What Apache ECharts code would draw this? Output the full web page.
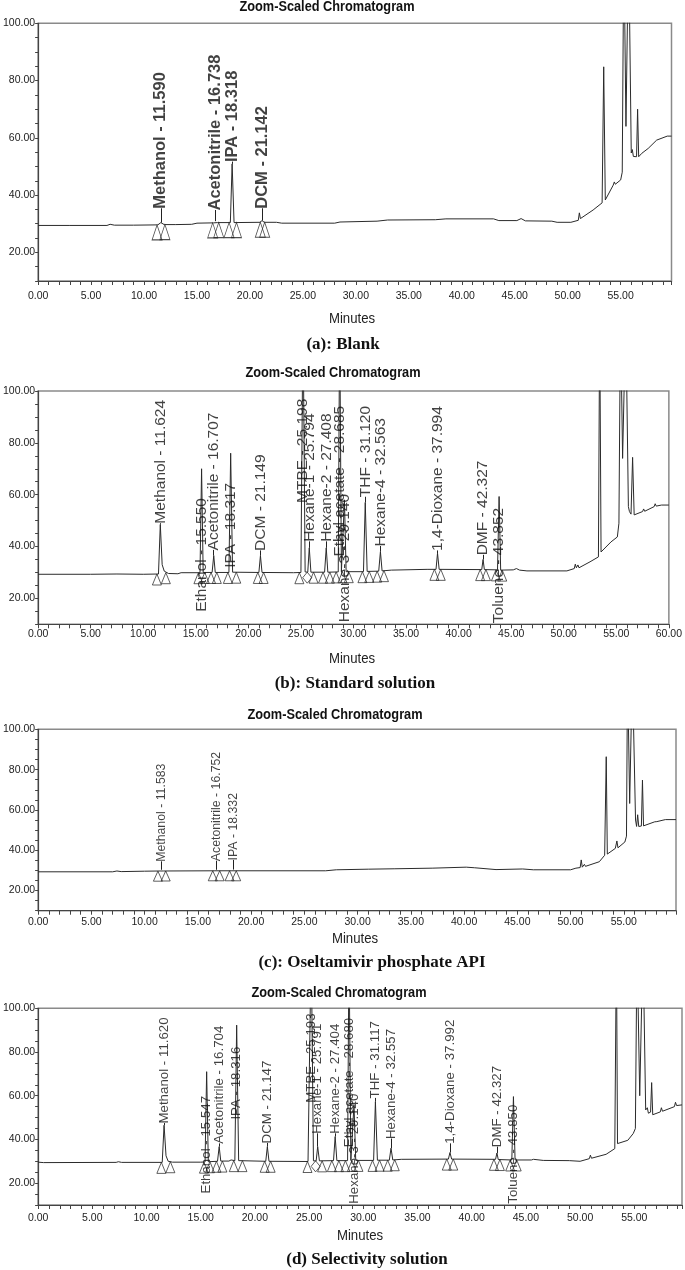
<!DOCTYPE html>
<html><head><meta charset="utf-8">
<script src="https://cdn.jsdelivr.net/npm/echarts@6/dist/echarts.min.js"></script>
<style>html,body{margin:0;padding:0;background:#fff}#c{width:685px;height:1270px}</style>
</head><body><div id="c"></div>
<script>
// ---------- Panel (a): Blank ----------
const traceA = [[0,29.4],[3,29.4],[6.5,29.4],[6.8,29.8],[7.2,29.5],[9,29.5],[11.3,29.6],[11.59,30.4],[11.9,29.7],[13,29.7],[14.5,29.8],[15,30.2],[16.55,30.3],[16.738,30.9],[16.95,30.4],[18.15,30.4],[18.318,50.9],[18.5,30.4],[20.95,30.5],[21.142,31.1],[21.35,30.5],[22.5,30.5],[23,30.2],[28,30.2],[28.5,30.6],[32,30.9],[33,31.3],[37.5,31.4],[38.5,31.7],[43,31.7],[43.5,31.1],[45.2,31.1],[45.6,31.8],[46,31.0],[48.5,30.9],[49,30.5],[50.3,30.5],[51,31.2],[51.1,33.8],[51.2,31.8],[52.4,34.8],[53.25,37.3],[53.4,84.8],[53.55,38.3],[54.3,43.5],[54.4,44.6],[54.5,43.8],[55.0,45.3],[55.15,48],[55.3,130],[55.5,64],[55.75,130],[56.0,54.7],[56.1,55.9],[56.2,53.5],[56.5,53.4],[56.6,70],[56.7,53.4],[57.0,54.6],[57.6,56.3],[58.4,59.2],[59.4,60.6],[59.8,60.6]];
const namesA = ['Methanol','Acetonitrile','IPA','DCM'];
const timesA = [11.590,16.738,18.318,21.142];
const apexA = [30.4,30.9,50.9,31.1];
const labelYA = [35.4,34.8,51.7,35.4];
const markersA = [[11.23,29.6],[11.97,29.7],[16.48,30.3],[17.05,30.4],[18.03,30.4],[18.73,30.4],[20.98,30.5],[21.39,30.5]];
const diamondsA = [];

// ---------- Panel (b): Standard solution ----------
const traceB = [[0,29.3],[5,29.3],[7.5,29.4],[10,29.3],[11.45,29.4],[11.624,48.5],[11.8,33],[12.0,30.5],[12.4,29.6],[13.3,29.5],[13.6,29.9],[15.4,29.9],[15.55,70],[15.7,30],[16.55,30],[16.707,36.5],[16.85,30],[18.15,30],[18.317,76],[18.5,30.1],[21.0,30],[21.149,36.5],[21.3,30],[24.3,29.9],[25.0,30.0],[25.198,130],[25.4,30.2],[25.65,30.1],[25.794,39.5],[25.95,30.1],[27.25,30.1],[27.408,39.5],[27.56,30.1],[28.55,30.2],[28.685,130],[28.85,30.3],[29.0,30.3],[29.14,58],[29.3,30.3],[30.95,30.3],[31.12,57],[31.3,30.4],[32.4,30.5],[32.563,38],[32.72,30.6],[33.6,30.9],[37,31.2],[37.85,31.2],[37.994,37.4],[38.15,31.2],[42.2,31.1],[42.327,35],[42.45,31.1],[43.7,31],[43.852,59.3],[44,30.9],[45.2,31],[45.5,31.5],[45.8,30.9],[46.5,30.6],[50.3,30.6],[51,31.5],[51.1,33.2],[51.2,31.8],[51.35,32.9],[51.45,31.8],[52.5,34.1],[53.3,36],[53.42,130],[53.55,37.9],[54.5,41.8],[55.1,43.7],[55.25,49],[55.4,130],[55.6,74],[55.9,130],[56.15,55.4],[56.25,53.5],[56.4,52.5],[56.55,74.4],[56.7,52.2],[57.5,53.5],[57.6,54.5],[57.7,53.6],[58.6,55.4],[58.7,56.5],[58.8,55.6],[59.3,56],[60,56]];
const namesB = ['Methanol','Ethanol','Acetonitrile','IPA','DCM','MTBE','Hexane-1','Hexane-2','Ethyl acetate','Hexane-3','THF','Hexane-4','1,4-Dioxane','DMF','Toluene'];
const timesB = [11.624,15.550,16.707,18.317,21.149,25.198,25.794,27.408,28.685,29.140,31.120,32.563,37.994,42.327,43.852];
const apexB = [48.5,70,36.5,76,36.5,130,39.5,39.5,130,58,57,38,37.4,35,59.3];
const labelYB = [49,15,38.7,32,38.5,57,42,42,36.3,11,59.2,40.2,38.5,36.8,10.6];
const markersB = [[11.3,29.4],[12.15,29.9],[15.25,29.9],[15.85,30],[16.45,30],[17.0,30],[18.05,30],[18.85,30.1],[20.9,30],[21.45,30],[24.85,29.9],[26.2,30.1],[27.1,30.1],[27.75,30.1],[28.35,30.2],[28.95,30.3],[29.55,30.3],[30.85,30.3],[31.5,30.4],[32.25,30.5],[32.9,30.7],[37.7,31.2],[38.3,31.2],[42.05,31.1],[42.6,31.1],[43.55,31],[44.15,30.9]];
const diamondsB = [[25.6,30.1]];

// ---------- Panel (c): Oseltamivir phosphate API ----------
const traceC = [[0,29.3],[7,29.3],[7.4,29.7],[7.8,29.4],[10,29.6],[11.45,29.7],[11.583,30.3],[11.75,29.7],[16.6,29.8],[16.752,30.3],[16.9,29.8],[18.2,29.8],[18.332,30.4],[18.5,29.8],[27,29.8],[28,30.3],[31,30.6],[33.5,30.8],[37,31.1],[40.2,31.6],[41,31.3],[43,30.4],[45.5,30.7],[46.5,30.3],[50,30.3],[50.5,31.1],[50.9,31.4],[51.0,35.2],[51.1,31.6],[51.3,33.0],[51.4,32],[52.7,34.3],[53.2,37.5],[53.35,86.4],[53.45,38.1],[54.2,40.9],[54.35,44.6],[54.45,41.2],[55.1,44.1],[55.25,47],[55.35,130],[55.55,63.2],[55.8,130],[56.1,55],[56.2,51.8],[56.3,57.6],[56.4,51.8],[56.65,52],[56.75,74.8],[56.85,52.1],[57.0,51.8],[57.9,54.1],[58,55],[58.1,54.2],[58.9,55.2],[59.9,55.2]];
const namesC = ['Methanol','Acetonitrile','IPA'];
const timesC = [11.583,16.752,18.332];
const apexC = [30.3,30.3,30.4];
const labelYC = [34.5,34.8,35.2];
const markersC = [[11.25,29.6],[11.98,29.7],[16.4,29.8],[17.05,29.8],[17.98,29.8],[18.6,29.8]];
const diamondsC = [];

// ---------- Panel (d): Selectivity solution ----------
const traceD = [[0,29.6],[0.5,29.4],[7.2,29.5],[7.4,29.8],[7.7,29.5],[11.45,29.5],[11.62,46.5],[11.8,32.5],[12.0,30],[12.4,29.6],[15.0,29.6],[15.4,29.7],[15.547,71],[15.7,29.8],[16.55,30],[16.704,36.7],[16.85,30.1],[17.6,30.1],[17.8,30.6],[18.15,30.3],[18.316,92.3],[18.5,30.3],[21.0,30],[21.147,36.7],[21.3,30],[24.9,29.9],[25.0,30.0],[25.193,130],[25.4,30.2],[25.65,30.2],[25.791,36.7],[25.95,30.2],[27.25,30.3],[27.404,41.3],[27.56,30.3],[28.55,30.3],[28.68,130],[28.85,30.4],[29.0,30.4],[29.14,56],[29.3,30.4],[30.95,30.4],[31.117,57.3],[31.3,30.5],[32.4,30.5],[32.557,36],[32.72,30.6],[33.5,30.9],[37.85,31],[37.992,34],[38.15,31],[42.2,30.9],[42.327,33.8],[42.45,30.8],[43.7,30.6],[43.85,59.6],[44,30.6],[45.5,30.6],[45.7,30.9],[46.6,30.4],[49,30.3],[50,30.0],[50.85,31.2],[50.95,32.8],[51.05,31.4],[52.4,33.2],[53.2,35.8],[53.35,130],[53.45,38.1],[54.4,39.6],[54.9,42.7],[55.1,45],[55.25,130],[55.5,60],[55.8,130],[56.05,53.5],[56.2,54.5],[56.3,52],[56.5,52.5],[56.6,66],[56.7,51.3],[57.4,52.6],[57.5,54.5],[57.6,52.9],[58.7,55],[58.8,57],[58.9,55.5],[59.4,55.8]];
const namesD = ['Methanol','Ethanol','Acetonitrile','IPA','DCM','MTBE','Hexane-1','Hexane-2','Ethyl acetate','Hexane-3','THF','Hexane-4','1,4-Dioxane','DMF','Toluene'];
const timesD = [11.620,15.547,16.704,18.316,21.147,25.193,25.791,27.404,28.680,29.140,31.117,32.557,37.992,42.327,43.850];
const apexD = [46.5,71,36.7,92.3,36.7,130,36.7,41.3,130,56,57.3,36,34,33.8,59.6];
const labelYD = [47.5,15.5,38.2,49.3,38.4,57,42.8,42.8,36.7,10.8,59,40.4,38.2,36.7,10.8];
const markersD = [[11.37,29.5],[12.2,29.8],[15.3,29.6],[15.85,29.8],[16.45,30],[17.0,30.1],[18.05,30.3],[18.85,30.3],[20.9,30],[21.45,30],[24.85,29.9],[26.2,30.2],[27.1,30.3],[27.75,30.3],[28.35,30.3],[28.95,30.4],[29.55,30.4],[30.85,30.4],[31.5,30.5],[32.25,30.5],[32.9,30.7],[37.7,31],[38.3,31],[42.05,30.9],[42.6,30.8],[43.55,30.6],[44.15,30.6]];
const diamondsD = [[25.6,30.2]];

// ---------- Text ----------
const chartTitle = 'Zoom-Scaled Chromatogram';
const xAxisTitle = 'Minutes';
const captions = ['(a): Blank','(b): Standard solution','(c): Oseltamivir phosphate API','(d) Selectivity solution'];

// ---------- Layout / style ----------
const SANS = "'Liberation Sans',Arial,sans-serif";
const SERIF = "'Liberation Serif','Times New Roman',serif";

const panels = [
  {grid:{left:33.5,right:13.5,top:23.3,height:257.7}, xmax:59.8, labMargin:10, trace:traceA, names:namesA, times:timesA, apex:apexA, ly:labelYA, markers:markersA, diamonds:diamondsA, fs:16.5, fw:'bold', tri:[10,15],
   titleXY:[327,7], minXY:[352,319], capXY:[343,345]},
  {grid:{left:33.5,right:12.5,top:391,height:233.3}, xmax:60, labMargin:4, trace:traceB, names:namesB, times:timesB, apex:apexB, ly:labelYB, markers:markersB, diamonds:diamondsB, fs:15.5, fw:'normal', tri:[9,11],
   titleXY:[333,373], minXY:[352,659], capXY:[355,684]},
  {grid:{left:34,right:9,top:729.3,height:181.4}, xmax:59.9, labMargin:5.5, trace:traceC, names:namesC, times:timesC, apex:apexC, ly:labelYC, markers:markersC, diamonds:diamondsC, fs:12.3, fw:'normal', tri:[9,10],
   titleXY:[335,715], minXY:[355,939], capXY:[372,963]},
  {grid:{left:33.5,right:3,top:1008.3,height:196.7}, xmax:59.4, labMargin:8, trace:traceD, names:namesD, times:timesD, apex:apexD, ly:labelYD, markers:markersD, diamonds:diamondsD, fs:13.3, fw:'normal', tri:[9,11],
   titleXY:[339,993], minXY:[360,1236], capXY:[367,1260]}
];

const grids = [], xAxes = [], yAxes = [], series = [], graphics = [];
panels.forEach((p, i) => {
  grids.push(Object.assign({show:true, borderColor:'#8a8a8a', borderWidth:1.5, backgroundColor:'transparent'}, p.grid));
  xAxes.push({
    gridIndex:i, type:'value', min:0, max:p.xmax, interval:1,
    axisLine:{show:true, onZero:false, lineStyle:{color:'#444', width:1.2}},
    axisTick:{show:true, length:4, lineStyle:{color:'#444', width:1}},
    splitLine:{show:false},
    axisLabel:{margin:p.labMargin, fontSize:10.5, fontFamily:SANS, color:'#222',
      formatter: v => (Math.abs(v/5 - Math.round(v/5)) < 1e-6 ? Number(v).toFixed(2) : '')}
  });
  yAxes.push({
    gridIndex:i, type:'value', min:10, max:100, interval:5,
    axisLine:{show:true, onZero:false, lineStyle:{color:'#444', width:1.2}},
    axisTick:{show:true, length:3, lineStyle:{color:'#444', width:1}},
    splitLine:{show:false},
    axisLabel:{margin:3, fontSize:10.5, fontFamily:SANS, color:'#222',
      formatter: v => (v % 20 === 0 ? Number(v).toFixed(2) : '')}
  });
  series.push({
    type:'line', xAxisIndex:i, yAxisIndex:i, data:p.trace, showSymbol:false, clip:true,
    lineStyle:{color:'#2b2b2b', width:1}, z:3, silent:true
  });
  series.push({
    type:'scatter', xAxisIndex:i, yAxisIndex:i, data:p.markers, symbol:'triangle',
    symbolSize:p.tri, symbolOffset:[0,'50%'],
    itemStyle:{color:'rgba(255,255,255,0)', borderColor:'#222', borderWidth:0.9}, z:4, silent:true
  });
  if (p.diamonds.length) series.push({
    type:'scatter', xAxisIndex:i, yAxisIndex:i, data:p.diamonds, symbol:'diamond',
    symbolSize:p.tri, symbolOffset:[0,'50%'],
    itemStyle:{color:'rgba(255,255,255,0)', borderColor:'#222', borderWidth:0.9}, z:4, silent:true
  });
  const leaders = [];
  p.times.forEach((t, k) => {
    if (p.ly[k] > p.apex[k] + 0.3) leaders.push([{coord:[t, p.apex[k]]},{coord:[t, p.ly[k]]}]);
  });
  series.push({
    type:'scatter', xAxisIndex:i, yAxisIndex:i, symbolSize:1, itemStyle:{color:'rgba(0,0,0,0)'}, z:5, silent:true,
    data: p.names.map((n, k) => ({name: n + ' - ' + p.times[k].toFixed(3), value:[p.times[k], p.ly[k]]})),
    label:{show:true, formatter: q => q.name, position:'insideBottom', distance:0, rotate:90,
      align:'left', verticalAlign:'middle', fontSize:p.fs, fontWeight:p.fw, fontFamily:SANS, color:'#111'},
    markLine:{silent:true, symbol:['none','none'], animation:false, label:{show:false},
      lineStyle:{color:'#222', width:1, type:'solid'}, emphasis:{disabled:true}, data:leaders}
  });
  graphics.push({type:'text', x:p.titleXY[0], y:p.titleXY[1], scaleX:0.88, style:{text:chartTitle, textAlign:'center', textVerticalAlign:'middle', font:"bold 14.5px " + SANS, fill:'#111'}});
  graphics.push({type:'text', x:p.minXY[0], y:p.minXY[1], scaleX:0.88, style:{text:xAxisTitle, textAlign:'center', textVerticalAlign:'middle', font:"15px " + SANS, fill:'#222'}});
  graphics.push({type:'text', x:p.capXY[0], y:p.capXY[1], style:{text:captions[i], textAlign:'center', textVerticalAlign:'middle', font:"bold 17px " + SERIF, fill:'#111'}});
});

const chart = echarts.init(document.getElementById('c'), null, {renderer:'canvas'});
chart.setOption({
  animation:false,
  backgroundColor:'#ffffff',
  grid:grids, xAxis:xAxes, yAxis:yAxes, series:series, graphic:graphics
});
</script></body></html>
